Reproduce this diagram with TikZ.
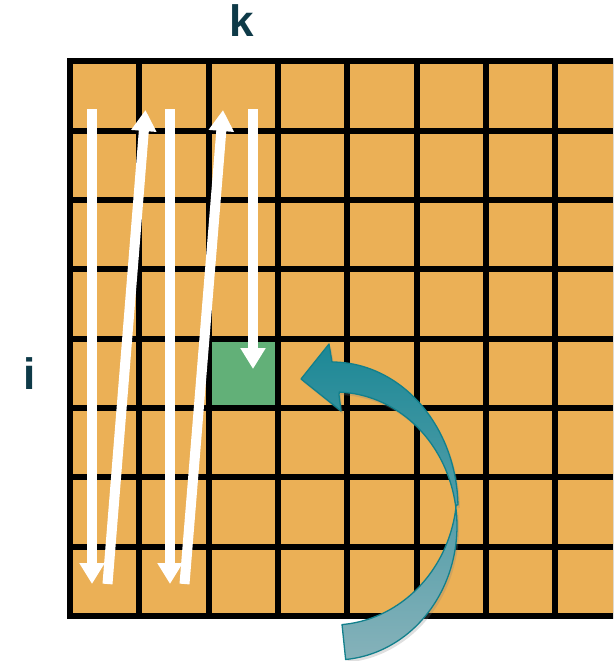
\documentclass[tikz,border=0pt]{standalone}
\usepackage{fontspec}
\setmainfont{Liberation Sans}
\usetikzlibrary{arrows.meta,shadows}
\definecolor{cellorange}{RGB}{235,176,86}
\definecolor{cellgreen}{RGB}{98,176,120}
\definecolor{labelteal}{RGB}{14,58,72}
\definecolor{tealtop}{RGB}{28,136,150}
\definecolor{tealbot}{RGB}{134,178,186}
\definecolor{tealedge}{RGB}{18,128,140}
\begin{document}
\begin{tikzpicture}[x=1pt,y=-1pt,
  whitearrow/.style={draw=white, line width=10pt, -{Triangle[width=24pt,length=21pt]}},
  axislabel/.style={text=labelteal, font=\fontsize{44}{44}\selectfont\bfseries, anchor=base, inner sep=0pt},
  cell/.style={fill=cellorange},
  curvedarrow/.style={top color=tealtop, bottom color=tealbot, draw=tealedge, line width=1.3pt, line join=round,
    drop shadow={opacity=0.25, shadow xshift=2pt, shadow yshift=-3pt}}]
\useasboundingbox (0,0) rectangle (613,661);
\begin{scope}
  \clip (0,0) rectangle (613,661);
  \fill[black] (67,58.5) rectangle (640,619);
  \foreach \c in {0,...,8}{
    \foreach \r in {0,...,7}{
      \fill[cell] ({70+\c*69.3+3},{61.5+\r*69.3+3}) rectangle ({70+(\c+1)*69.3-3},{61.5+(\r+1)*69.3-3});
    }
  }
  \fill[cellgreen] ({70+2*69.3+3},{61.5+4*69.3+3}) rectangle ({70+3*69.3-3},{61.5+5*69.3-3});
\end{scope}
% labels
\node[axislabel] (k) at (242,37) {k};
\node[axislabel] (i) at (30,389) {i};
% white traversal arrows
\coordinate (a1s) at (92,109);    \coordinate (a1e) at (92,584);
\coordinate (a2s) at (107.5,584); \coordinate (a2e) at (145.5,110);
\coordinate (a3s) at (170,109);   \coordinate (a3e) at (170,584);
\coordinate (a4s) at (184.5,584); \coordinate (a4e) at (223,110);
\coordinate (a5s) at (253,109);   \coordinate (a5e) at (253,369);
\draw[whitearrow] (a1s) -- (a1e);
\draw[whitearrow] (a2s) -- (a2e);
\draw[whitearrow] (a3s) -- (a3e);
\draw[whitearrow] (a4s) -- (a4e);
\draw[whitearrow] (a5s) -- (a5e);
% curved teal arrow
\path[curvedarrow]
  (301,379) -- (329,344) -- (332,362)
  -- plot[domain=90:1.2, samples=45, variable=\t] ({332+126*cos(\t)},{508-146*sin(\t)})
  -- plot[domain=9:-85, samples=45, variable=\t] ({335+122*cos(\t)},{526-134*sin(\t)})
  -- plot[domain=-85.4:-6.4, samples=45, variable=\t] ({332+125*cos(\t)},{490-135*sin(\t)})
  -- plot[domain=9:88, samples=45, variable=\t] ({335+122*cos(\t)},{526-134*sin(\t)})
  -- (339,395) -- (341,411) -- cycle;
\end{tikzpicture}
\end{document}
